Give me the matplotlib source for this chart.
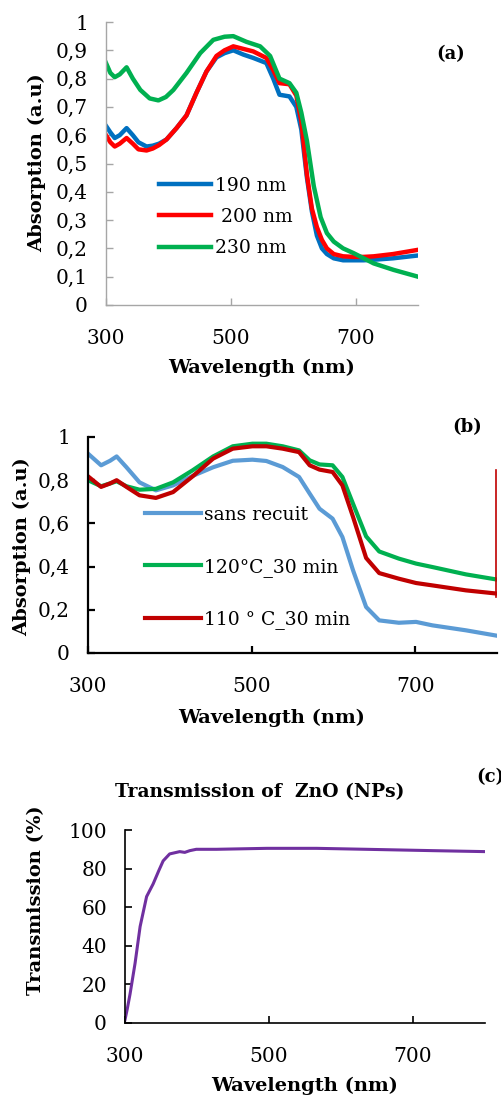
import matplotlib
matplotlib.use('Agg')
import matplotlib.pyplot as plt
from matplotlib.lines import Line2D

plt.rcParams['font.family'] = ['DejaVu Serif']

# ---- panel (a): absorption vs. thickness
wl_a_low = [300, 307, 314, 322, 333, 343, 352, 365, 375]
abs_190_low = [0.633, 0.61, 0.59, 0.60, 0.625, 0.60, 0.575, 0.56, 0.563]
abs_200_low = [0.60, 0.575, 0.56, 0.57, 0.59, 0.57, 0.55, 0.546, 0.553]
wl_a = [385, 397, 413, 429, 445, 461, 477, 490, 504, 520, 536, 557, 568,
        578, 594, 605, 613, 622, 630, 638, 646, 654, 665, 680, 697, 713,
        729, 760, 800]
abs_190 = [0.57, 0.585, 0.625, 0.67, 0.75, 0.825, 0.875, 0.89, 0.90, 0.885,
           0.873, 0.855, 0.80, 0.743, 0.737, 0.70, 0.62, 0.45, 0.33, 0.245,
           0.20, 0.18, 0.165, 0.158, 0.158, 0.158, 0.16, 0.165, 0.175]
abs_200 = [0.565, 0.585, 0.625, 0.67, 0.75, 0.825, 0.88, 0.90, 0.914, 0.905,
           0.896, 0.873, 0.83, 0.784, 0.78, 0.74, 0.65, 0.46, 0.34, 0.275,
           0.23, 0.20, 0.18, 0.172, 0.17, 0.17, 0.172, 0.18, 0.195]
wl_a_g = [300, 307, 314, 322, 333, 343, 355, 370, 384, 396, 408, 429, 451,
          472, 490, 504, 525, 547, 563, 578, 594, 605, 613, 622, 633, 644,
          654, 665, 680, 697, 713, 729, 761, 800]
abs_230 = [0.855, 0.82, 0.805, 0.815, 0.84, 0.80, 0.76, 0.73, 0.723, 0.735,
           0.76, 0.82, 0.89, 0.937, 0.948, 0.95, 0.93, 0.914, 0.88, 0.80,
           0.784, 0.75, 0.68, 0.58, 0.42, 0.31, 0.254, 0.224, 0.20, 0.183,
           0.165, 0.147, 0.124, 0.10]

# ---- panel (b): absorption vs. annealing
wl_b = [300, 316, 327, 335, 347, 363, 383, 404, 428, 453, 477, 501, 518, 538,
        558, 571, 583, 599, 611, 624, 640, 656, 680, 701, 721, 762, 800]
abs_sans = [0.923, 0.869, 0.89, 0.91, 0.86, 0.79, 0.753, 0.776, 0.82, 0.86,
            0.89, 0.895, 0.889, 0.861, 0.815, 0.738, 0.668, 0.622, 0.537,
            0.383, 0.213, 0.151, 0.14, 0.144, 0.128, 0.105, 0.08]
abs_120 = [0.80, 0.772, 0.785, 0.795, 0.772, 0.756, 0.76, 0.79, 0.846, 0.91,
           0.957, 0.969, 0.969, 0.957, 0.938, 0.892, 0.873, 0.869, 0.815,
           0.691, 0.54, 0.47, 0.437, 0.414, 0.398, 0.364, 0.34]
abs_110 = [0.818, 0.769, 0.785, 0.80, 0.769, 0.73, 0.718, 0.745, 0.818, 0.90,
           0.946, 0.957, 0.957, 0.946, 0.93, 0.869, 0.849, 0.838, 0.776,
           0.63, 0.44, 0.37, 0.344, 0.324, 0.313, 0.29, 0.275]

# ---- panel (c): transmission
wl_c = [300, 303, 307, 314, 321, 330, 339, 347, 353, 362, 376, 383, 390, 399,
        427, 497, 566, 635, 728, 800]
trans = [1.7, 7, 15, 31, 50, 65.5, 72, 79, 84, 87.6, 88.8, 88.4, 89.3, 90,
         90, 90.5, 90.5, 90, 89.3, 88.8]

W, H = 502, 1097
fig = plt.figure(figsize=(W / 100, H / 100), dpi=100)


def box(l, t, r, b):
    return [l / W, 1 - b / H, (r - l) / W, (b - t) / H]


def style(ax, color, lw):
    for s in ['top', 'right']:
        ax.spines[s].set_visible(False)
    for s in ['left', 'bottom']:
        ax.spines[s].set_color(color)
        ax.spines[s].set_linewidth(lw)
    ax.tick_params(direction='in', length=5, width=lw, color=color,
                   labelsize=14.5)
    ax.tick_params(axis='x', pad=17)
    ax.tick_params(axis='y', pad=13)


def label_x(x, y, text):
    fig.text(x / W, 1 - y / H, text, fontsize=14, fontweight='bold',
             ha='center', va='center')


def label_y(x, y, text):
    fig.text(x / W, 1 - y / H, text, fontsize=14, fontweight='bold',
             ha='center', va='center', rotation=90)


# (a)
ax1 = fig.add_axes(box(106, 22, 418, 305))
ax1.plot(wl_a_low + wl_a, abs_190_low + abs_190, color='#0070C0', lw=3.2,
         label='190 nm')
ax1.plot(wl_a_low + wl_a, abs_200_low + abs_200, color='#FF0000', lw=3.2,
         label=' 200 nm')
ax1.plot(wl_a_g, abs_230, color='#00B050', lw=3.2, label='230 nm')
ax1.set_xlim(300, 800)
ax1.set_ylim(0, 1)
ax1.set_xticks([300, 500, 700])
ax1.set_yticks([i / 10 for i in range(11)])
ax1.set_yticklabels(['0'] + ['0,%d' % i for i in range(1, 10)] + ['1'])
style(ax1, '#A6A6A6', 1.0)
label_x(262, 368, 'Wavelength (nm)')
label_y(37, 163, 'Absorption (a.u)')
ax1.legend(loc='upper left', bbox_to_anchor=(142 / W, 1 - 160 / H),
           bbox_transform=fig.transFigure, frameon=False, fontsize=13.5,
           handlelength=2.8, handletextpad=0.2, labelspacing=0.7)
fig.text(451 / W, 1 - 54 / H, '(a)', fontsize=13, fontweight='bold',
         ha='center', va='center')

# (b)
ax2 = fig.add_axes(box(88, 437, 497, 653))
ax2.plot(wl_b, abs_sans, color='#5B9BD5', lw=3.0, label='sans recuit')
ax2.plot(wl_b, abs_120, color='#00B050', lw=3.0, label='120°C_30 min')
ax2.plot(wl_b, abs_110, color='#C00000', lw=3.0, label='110 ° C_30 min')
ax2.set_xlim(300, 800)
ax2.set_ylim(0, 1)
ax2.set_xticks([300, 500, 700])
ax2.set_yticks([0, 0.2, 0.4, 0.6, 0.8, 1])
ax2.set_yticklabels(['0', '0,2', '0,4', '0,6', '0,8', '1'])
style(ax2, 'black', 1.6)
label_x(272, 718, 'Wavelength (nm)')
label_y(22, 547, 'Absorption (a.u)')
ax2.legend(loc='upper left', bbox_to_anchor=(128 / W, 1 - 489 / H),
           bbox_transform=fig.transFigure, frameon=False, fontsize=13.5,
           handlelength=3.0, handletextpad=0.15, labelspacing=1.8)
fig.text(467 / W, 1 - 427 / H, '(b)', fontsize=13, fontweight='bold',
         ha='center', va='center')
fig.add_artist(Line2D([496 / W, 496 / W], [1 - 470 / H, 1 - 597 / H],
                      color='#C00000', lw=1.2))

# (c)
ax3 = fig.add_axes(box(125, 830, 485, 1023))
ax3.plot(wl_c, trans, color='#7030A0', lw=2.2)
ax3.set_xlim(300, 800)
ax3.set_ylim(0, 100)
ax3.set_xticks([300, 500, 700])
ax3.set_yticks([0, 20, 40, 60, 80, 100])
style(ax3, 'black', 1.2)
label_x(305, 1086, 'Wavelength (nm)')
label_y(36, 900, 'Transmission (%)')
fig.text(260 / W, 1 - 792 / H, 'Transmission of  ZnO (NPs)', fontsize=13.5,
         fontweight='bold', ha='center', va='center')
fig.text(490 / W, 1 - 777 / H, '(c)', fontsize=13, fontweight='bold',
         ha='center', va='center')

fig.savefig('out.png', dpi=100)
